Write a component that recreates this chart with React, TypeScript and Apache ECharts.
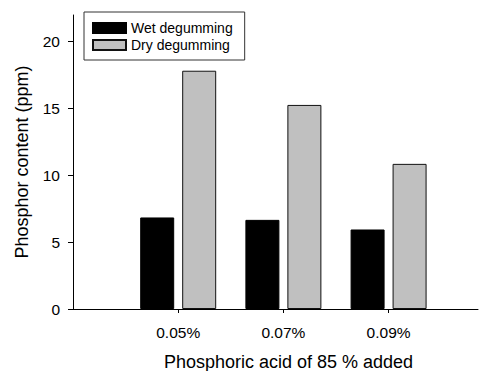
import React, { useEffect, useRef } from "react";
import * as echarts from "echarts";

const acidLevels = [0.05, 0.07, 0.09];
const tickLabels = ["0.05%", "0.07%", "0.09%"];
const wetDegumming = [6.85, 6.67, 5.95];
const dryDegumming = [17.83, 15.27, 10.86];
const yTicks = [0, 5, 10, 15, 20];

const FONT = "'Liberation Sans', Arial, Helvetica, sans-serif";

export default function App() {
  const ref = useRef<HTMLDivElement>(null);
  useEffect(() => {
    if (!ref.current) return;
    const chart = echarts.init(ref.current, null, { renderer: "svg" });
    chart.setOption({
      animation: false,
      backgroundColor: "#ffffff",
      textStyle: { fontFamily: FONT, color: "#000" },
      grid: { left: 73, right: 1, top: 15, bottom: 62, containLabel: false, outerBoundsMode: "none" },
      legend: {
        orient: "vertical",
        left: 84,
        top: 12,
        padding: [9, 12, 8, 8],
        itemWidth: 33,
        itemHeight: 10,
        itemGap: 3,
        borderColor: "#333",
        borderWidth: 1,
        backgroundColor: "#fff",
        icon: "rect",
        textStyle: { fontFamily: FONT, fontSize: 14, color: "#000", padding: [0, 0, 0, 0] },
        data: ["Wet degumming", "Dry degumming"],
      },
      xAxis: {
        type: "value",
        min: 0.03,
        max: 0.107,
        name: "Phosphoric acid of 85 % added",
        nameLocation: "middle",
        nameGap: 44,
        nameTextStyle: { fontFamily: FONT, fontSize: 18, color: "#000", padding: [0, 0, 0, 26] },
        splitLine: { show: false },
        axisLine: { show: true, onZero: false, lineStyle: { color: "#000", width: 1 } },
        axisTick: { show: true, length: 4, customValues: acidLevels, lineStyle: { color: "#000" } },
        axisLabel: {
          customValues: acidLevels,
          margin: 15,
          fontFamily: FONT,
          fontSize: 15.5,
          color: "#000",
          formatter: (v: number) => {
            const i = acidLevels.findIndex((a) => Math.abs(a - v) < 1e-9);
            return i >= 0 ? tickLabels[i] : "";
          },
        },
      },
      yAxis: {
        type: "value",
        min: 0,
        max: 22,
        interval: 5,
        name: "Phosphor content (ppm)",
        nameLocation: "middle",
        nameGap: 42,
        nameTextStyle: { fontFamily: FONT, fontSize: 18, color: "#000" },
        splitLine: { show: false },
        axisLine: { show: true, onZero: false, lineStyle: { color: "#000", width: 1 } },
        axisTick: { show: true, length: 5, customValues: yTicks, lineStyle: { color: "#000" } },
        axisLabel: {
          customValues: yTicks,
          margin: 13,
          fontFamily: FONT,
          fontSize: 15.5,
          color: "#000",
        },
      },
      series: [
        {
          name: "Wet degumming",
          type: "bar",
          barWidth: 34,
          barGap: "23.5%",
          itemStyle: { color: "#000000", borderColor: "#000", borderWidth: 1 },
          data: acidLevels.map((x, i) => [x, wetDegumming[i]]),
        },
        {
          name: "Dry degumming",
          type: "bar",
          barWidth: 34,
          barGap: "23.5%",
          itemStyle: { color: "#c0c0c0", borderColor: "#111", borderWidth: 1 },
          data: acidLevels.map((x, i) => [x, dryDegumming[i]]),
        },
      ],
    });
    return () => chart.dispose();
  }, []);
  return (
    <div
      ref={ref}
      style={{ position: "absolute", left: 0, top: 0, width: 479, height: 371 }}
    />
  );
}
